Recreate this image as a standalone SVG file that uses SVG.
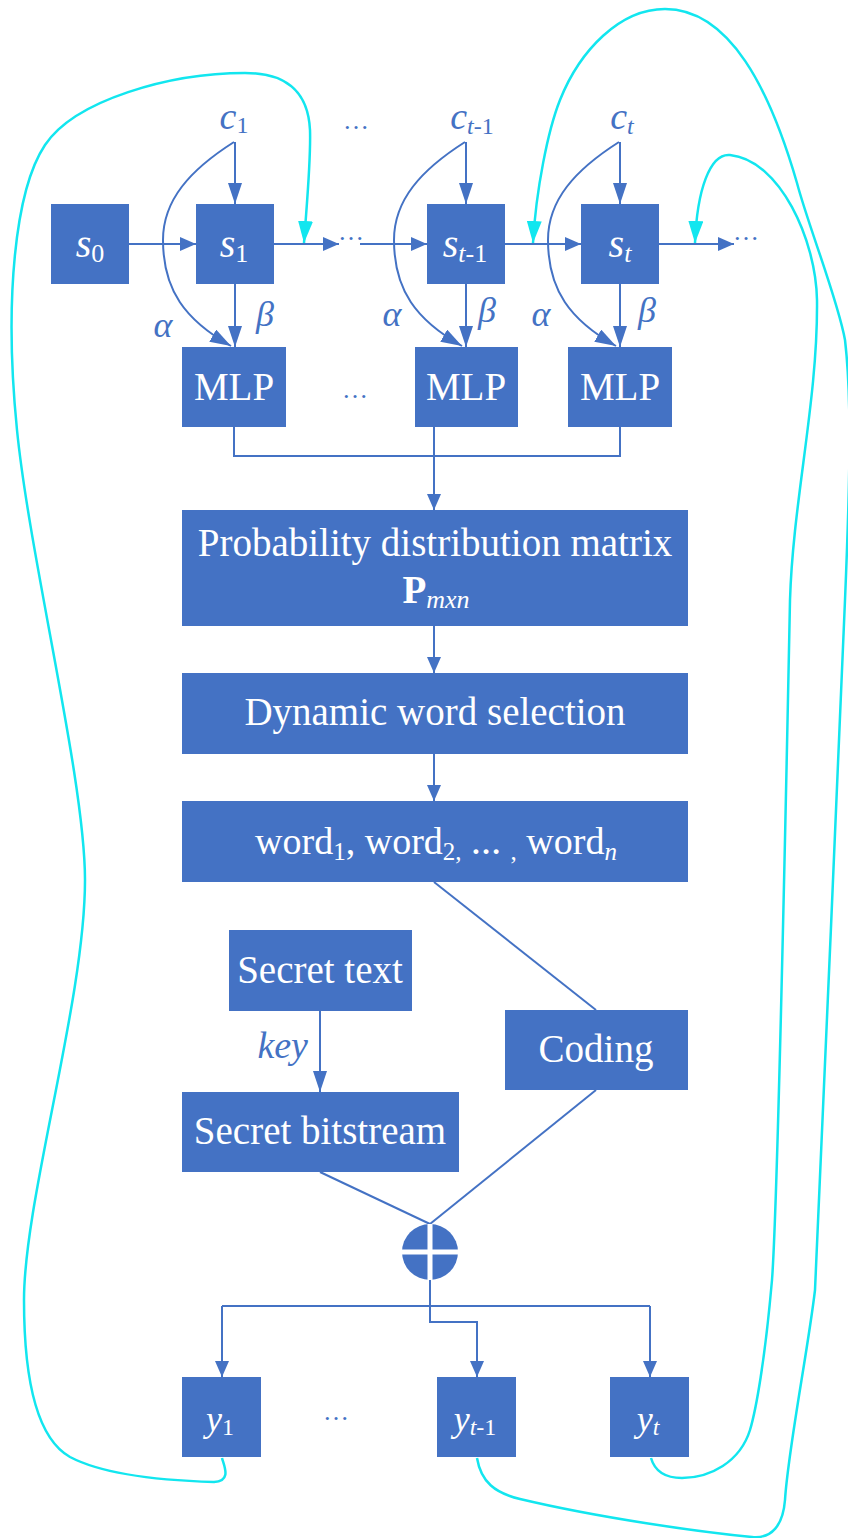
<svg xmlns="http://www.w3.org/2000/svg" width="848" height="1538" viewBox="0 0 848 1538">
<style>
.box{fill:#4472C4}
.t{font-family:"Liberation Serif","Times New Roman",serif;text-anchor:middle}
.w{fill:#fff}
.b{fill:#4472C4}
.i{font-style:italic}
.bt{font-size:39px}
.ln{stroke:#4472C4;stroke-width:2;fill:none}
.cy{stroke:#12E6EF;stroke-width:2.5;fill:none}
</style>
<defs>
<marker id="ab" markerUnits="userSpaceOnUse" viewBox="0 0 16 14" markerWidth="16" markerHeight="14" refX="16" refY="7" orient="auto"><path d="M0,0 L16,7 L0,14 z" fill="#4472C4"/></marker>
<marker id="abl" markerUnits="userSpaceOnUse" viewBox="0 0 21 14" markerWidth="21" markerHeight="14" refX="21" refY="7" orient="auto"><path d="M0,0 L21,7 L0,14 z" fill="#4472C4"/></marker>
<marker id="ac" markerUnits="userSpaceOnUse" viewBox="0 0 22 15" markerWidth="22" markerHeight="15" refX="22" refY="7.5" orient="auto"><path d="M0,0 L22,7.5 L0,15 z" fill="#12E6EF"/></marker>
</defs>

<g id="connectors">
<path class="ln" d="M129,244 H196" marker-end="url(#ab)"/>
<path class="ln" d="M274,244 H339" marker-end="url(#ab)"/>
<path class="ln" d="M360,244 H427" marker-end="url(#ab)"/>
<path class="ln" d="M505,244 H581" marker-end="url(#ab)"/>
<path class="ln" d="M659,244 H734" marker-end="url(#ab)"/>
<path class="ln" d="M235,142 V204" marker-end="url(#abl)"/>
<path class="ln" d="M466,142 V204" marker-end="url(#abl)"/>
<path class="ln" d="M620,142 V204" marker-end="url(#abl)"/>
<path class="ln" d="M235,284 V347" marker-end="url(#abl)"/>
<path class="ln" d="M466,284 V347" marker-end="url(#abl)"/>
<path class="ln" d="M620,284 V347" marker-end="url(#abl)"/>
<path class="ln" d="M234,142 C190,170 163,200 163,240 C163,290 185,320 231,346" marker-end="url(#abl)"/>
<path class="ln" d="M465,142 C421,170 394,200 394,240 C394,290 416,320 462,346" marker-end="url(#abl)"/>
<path class="ln" d="M619,142 C575,170 548,200 548,240 C548,290 570,320 616,346" marker-end="url(#abl)"/>
<path class="ln" d="M234,427 V456 H620 V427"/>
<path class="ln" d="M434,427 V510" marker-end="url(#ab)"/>
<path class="ln" d="M434,626 V673" marker-end="url(#ab)"/>
<path class="ln" d="M434,754 V801" marker-end="url(#ab)"/>
<path class="ln" d="M434,882 L596,1010"/>
<path class="ln" d="M320,1011 V1092" marker-end="url(#abl)"/>
<path class="ln" d="M320,1172 L430,1224"/>
<path class="ln" d="M596,1090 L430,1224"/>
<path class="ln" d="M430,1280 V1306"/>
<path class="ln" d="M222,1306 H650"/>
<path class="ln" d="M222,1306 V1377" marker-end="url(#ab)"/>
<path class="ln" d="M650,1306 V1377" marker-end="url(#ab)"/>
<path class="ln" d="M430,1306 V1322 H477 V1377" marker-end="url(#ab)"/>
<path class="cy" d="M222,1458 C224,1466 232,1481 214,1482 C180,1481 110,1478 70,1457 C40,1440 24,1390 24,1300 C24,1200 85,1000 85,880 C85,780 30,560 17,430 C4,300 15,190 45,145 C75,100 170,73 245,73 C285,73 308,90 310,130 C311,160 307,200 304,243" marker-end="url(#ac)"/>
<path class="cy" d="M477,1458 C481,1482 495,1493 520,1499 C600,1518 700,1532 752,1537 C772,1539 783,1525 785,1500 C788,1450 808,1350 815,1290 C822,1100 838,800 845,600 C850,480 852,400 845,340 C838,300 808,225 797,183 C770,90 730,9 665,9 C620,9 580,50 560,100 C548,130 536,190 533,243" marker-end="url(#ac)"/>
<path class="cy" d="M651,1458 C655,1472 665,1478 682,1478 C710,1478 740,1462 750,1430 C756,1410 765,1360 772,1280 C778,1200 786,800 790,600 C793,500 818,400 817,300 C816,240 780,160 730,155 C710,153 697,190 695,243" marker-end="url(#ac)"/>
</g>

<g id="labels" class="t b">
<text x="234" y="129" font-size="38"><tspan class="i">c</tspan><tspan font-size="24" dy="4">1</tspan></text>
<text x="472" y="129" font-size="38"><tspan class="i">c</tspan><tspan font-size="24" dy="5" class="i">t</tspan><tspan font-size="24">-1</tspan></text>
<text x="622" y="129" font-size="38"><tspan class="i">c</tspan><tspan font-size="24" dy="5" class="i">t</tspan></text>
<text x="356" y="129" font-size="26">…</text>
<text x="351" y="240" font-size="26">…</text>
<text x="746" y="240" font-size="26">…</text>
<text x="355" y="398" font-size="26">…</text>
<text x="336" y="1420" font-size="26">…</text>
<text class="i" x="163" y="337" font-size="36">α</text>
<text class="i" x="265" y="326" font-size="36">β</text>
<text class="i" x="392" y="326" font-size="36">α</text>
<text class="i" x="487" y="322" font-size="36">β</text>
<text class="i" x="541" y="326" font-size="36">α</text>
<text class="i" x="647" y="322" font-size="36">β</text>
<text class="i" x="308" y="1058" font-size="38" style="text-anchor:end">key</text>
</g>

<g id="s0"><rect class="box" x="51" y="204" width="78" height="80"/><text class="t w" x="90" y="257" font-size="40"><tspan class="i">s</tspan><tspan font-size="26" dy="5">0</tspan></text></g>
<g id="s1"><rect class="box" x="196" y="204" width="78" height="80"/><text class="t w" x="234" y="257" font-size="40"><tspan class="i">s</tspan><tspan font-size="26" dy="5">1</tspan></text></g>
<g id="st1"><rect class="box" x="427" y="204" width="78" height="80"/><text class="t w" x="465" y="257" font-size="40"><tspan class="i">s</tspan><tspan font-size="26" dy="5" class="i">t</tspan><tspan font-size="26">-1</tspan></text></g>
<g id="st"><rect class="box" x="581" y="204" width="78" height="80"/><text class="t w" x="620" y="257" font-size="40"><tspan class="i">s</tspan><tspan font-size="26" dy="5" class="i">t</tspan></text></g>

<g id="mlp1"><rect class="box" x="182" y="347" width="104" height="80"/><text class="t w bt" x="234" y="400">MLP</text></g>
<g id="mlp2"><rect class="box" x="415" y="347" width="103" height="80"/><text class="t w bt" x="466" y="400">MLP</text></g>
<g id="mlp3"><rect class="box" x="568" y="347" width="104" height="80"/><text class="t w bt" x="620" y="400">MLP</text></g>

<g id="prob"><rect class="box" x="182" y="510" width="506" height="116"/>
<text class="t w bt" x="435" y="556">Probability distribution matrix</text>
<text class="t w bt" x="436" y="603"><tspan font-weight="bold">P</tspan><tspan class="i" font-size="26" dy="5">mxn</tspan></text></g>

<g id="dyn"><rect class="box" x="182" y="673" width="506" height="81"/><text class="t w bt" x="435" y="725">Dynamic word selection</text></g>

<g id="words"><rect class="box" x="182" y="801" width="506" height="81"/>
<text class="t w" x="436" y="854" font-size="38">word<tspan font-size="25" dy="6">1</tspan><tspan dy="-6">, word</tspan><tspan font-size="25" dy="6">2,</tspan><tspan dy="-6"> </tspan><tspan font-size="30" font-weight="bold">…</tspan><tspan> </tspan><tspan font-size="25" dy="6">,</tspan><tspan dy="-6"> word</tspan><tspan font-size="25" dy="6" class="i">n</tspan></text></g>

<g id="secrettext"><rect class="box" x="229" y="930" width="183" height="81"/><text class="t w bt" x="320" y="983">Secret text</text></g>
<g id="coding"><rect class="box" x="505" y="1010" width="183" height="80"/><text class="t w bt" x="596" y="1062">Coding</text></g>
<g id="bitstream"><rect class="box" x="182" y="1092" width="277" height="80"/><text class="t w bt" x="320" y="1144">Secret bitstream</text></g>

<g id="xor"><circle cx="430" cy="1252" r="28" fill="#4472C4"/><path d="M430,1224 V1280 M402,1252 H458" stroke="#fff" stroke-width="5"/></g>

<g id="y1"><rect class="box" x="182" y="1377" width="79" height="80"/><text class="t w" x="220" y="1431" font-size="36"><tspan class="i">y</tspan><tspan font-size="24" dy="4">1</tspan></text></g>
<g id="yt1"><rect class="box" x="437" y="1377" width="79" height="80"/><text class="t w" x="475" y="1431" font-size="36"><tspan class="i">y</tspan><tspan font-size="24" dy="4" class="i">t</tspan><tspan font-size="24">-1</tspan></text></g>
<g id="yt"><rect class="box" x="610" y="1377" width="79" height="80"/><text class="t w" x="648" y="1431" font-size="36"><tspan class="i">y</tspan><tspan font-size="24" dy="4" class="i">t</tspan></text></g>
</svg>
